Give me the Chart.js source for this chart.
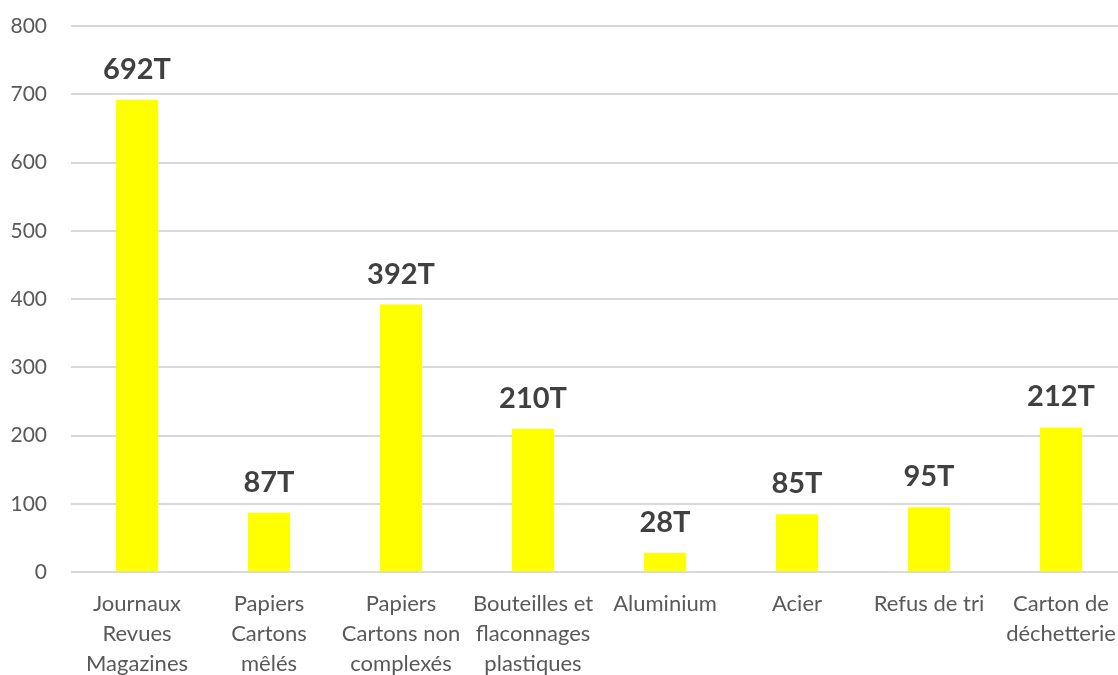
<!DOCTYPE html>
<html>
<head>
<meta charset="utf-8">
<script src="https://cdn.jsdelivr.net/npm/chart.js@4"></script>
<style>
  html, body { margin: 0; padding: 0; background: #ffffff; overflow: hidden; }
  #wrap { width: 1130px; height: 688px; position: relative; }
</style>
</head>
<body>
<div id="wrap"><canvas id="tonnageChart"></canvas></div>
<script>
// Categories (multi-line labels as in the original)
const categories = [
    ['Journaux', 'Revues', 'Magazines'],
    ['Papiers', 'Cartons', 'mêlés'],
    ['Papiers', 'Cartons non', 'complexés'],
    ['Bouteilles et', 'flaconnages', 'plastiques'],
    'Aluminium',
    'Acier',
    'Refus de tri',
    ['Carton de', 'déchetterie']
];
const tonnages = [692, 87, 392, 210, 28, 85, 95, 212];
const yTicks = [0, 100, 200, 300, 400, 500, 600, 700, 800];

// Small plugin to write "xxxT" above each bar
const valueLabels = {
    id: 'valueLabels',
    afterDatasetsDraw(chart) {
        const ctx = chart.ctx;
        const meta = chart.getDatasetMeta(0);
        ctx.save();
        ctx.font = 'bold 29px Lato';
        ctx.fillStyle = '#404040';
        ctx.textAlign = 'center';
        ctx.textBaseline = 'alphabetic';
        meta.data.forEach((bar, i) => {
            ctx.fillText(tonnages[i] + 'T', bar.x, bar.y - 21);
        });
        ctx.restore();
    }
};

const ctx = document.getElementById('tonnageChart').getContext('2d');
const chart = new Chart(ctx, {
    type: 'bar',
    data: {
        labels: categories,
        datasets: [{
            data: tonnages,
            backgroundColor: '#ffff00',
            borderWidth: 0,
            barPercentage: 0.32,
            categoryPercentage: 1.0
        }]
    },
    options: {
        responsive: true,
        maintainAspectRatio: false,
        animation: false,
        layout: { padding: { left: 11, right: 3, top: 26, bottom: 0 } },
        plugins: {
            legend: { display: false },
            tooltip: { enabled: false }
        },
        scales: {
            x: {
                grid: { display: false },
                border: { display: false },
                afterFit: (scale) => { scale.paddingLeft = 0; scale.paddingRight = 0; },
                ticks: {
                    color: '#595959',
                    font: { family: 'Lato', size: 22, lineHeight: 1.36 },
                    maxRotation: 0,
                    autoSkip: false,
                    padding: 9
                }
            },
            y: {
                min: 0,
                max: 800,
                afterBuildTicks: (scale) => { scale.ticks = yTicks.map(v => ({ value: v })); },
                afterFit: (scale) => {
                    scale.width = 60;  // labels + gap, like the original
                    scale.paddingTop = 0;
                    scale.paddingBottom = 0;
                },
                grid: { color: '#d9d9d9', lineWidth: 2, drawTicks: false },
                border: { display: false },
                ticks: {
                    color: '#595959',
                    font: { family: 'Lato', size: 21 },
                    padding: 24
                }
            }
        }
    },
    plugins: [valueLabels]
});
</script>
</body>
</html>
